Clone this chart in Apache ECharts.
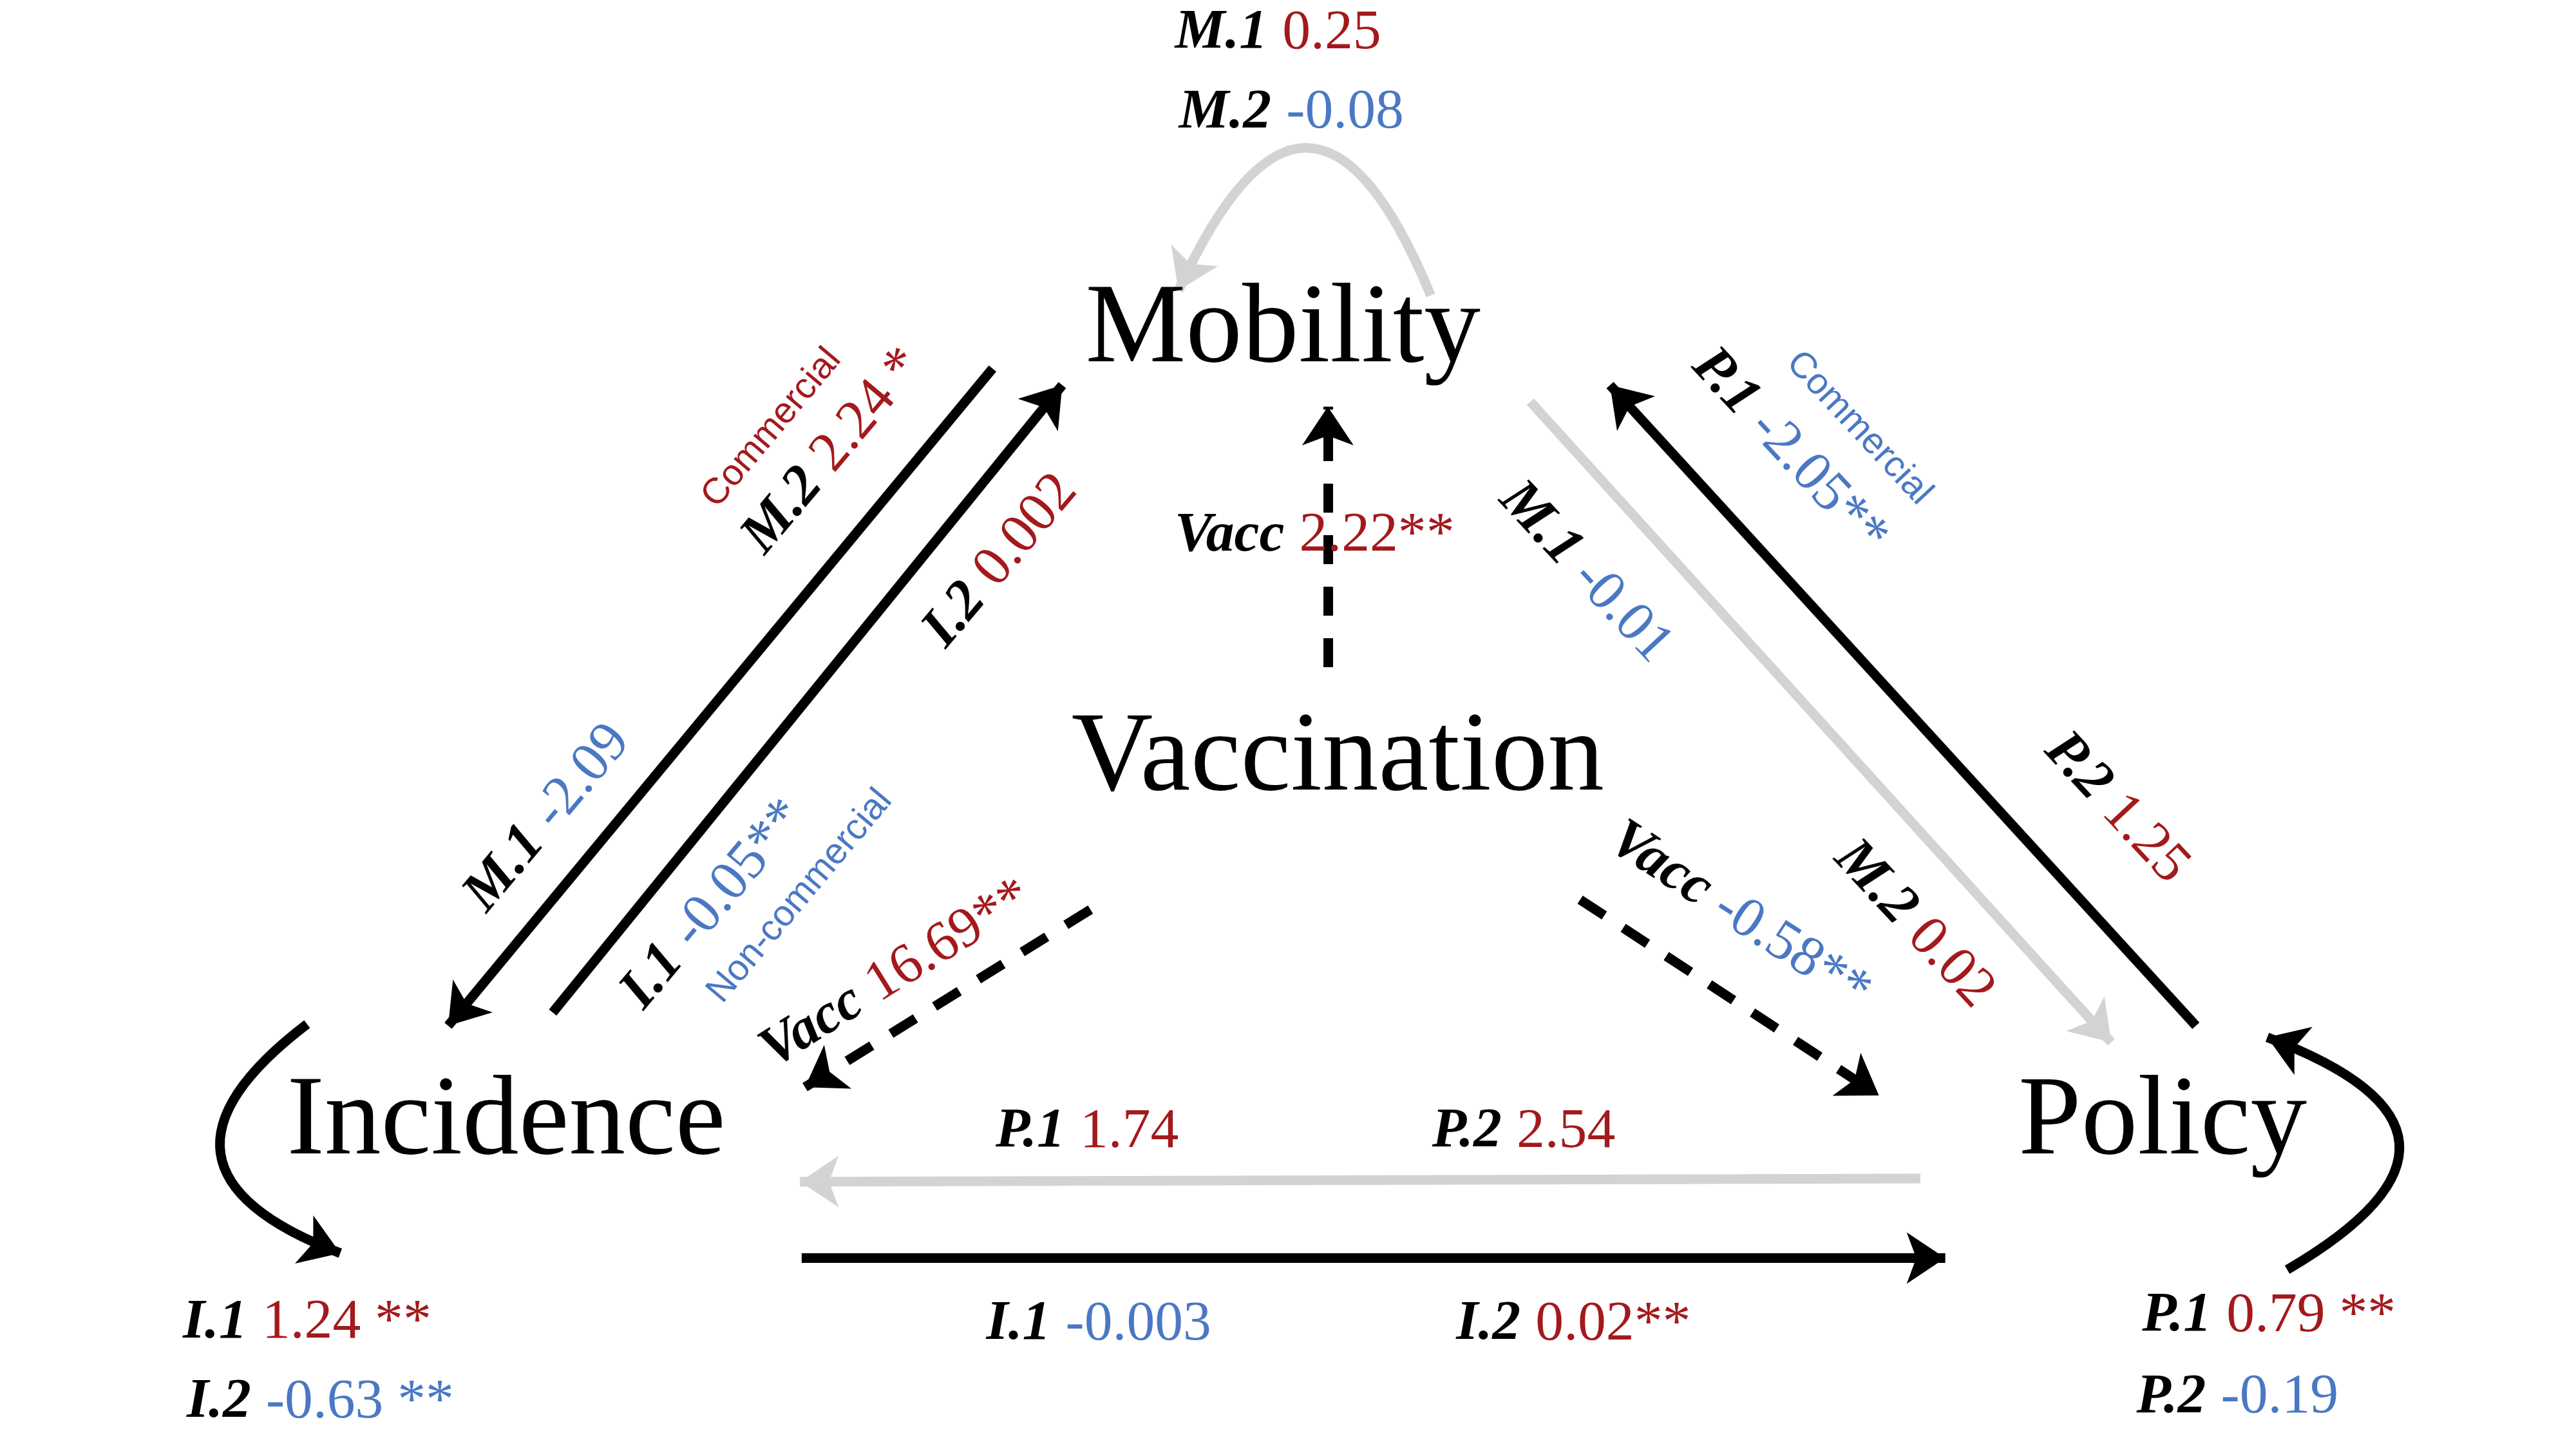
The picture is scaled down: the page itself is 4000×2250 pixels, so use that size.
<!DOCTYPE html>
<html><head><meta charset="utf-8">
<script src="https://cdn.jsdelivr.net/npm/echarts@6/dist/echarts.min.js"></script>
<style>html,body{margin:0;background:#fff}#c{width:4000px;height:2250px}</style>
</head><body><div id="c"></div>
<script>
var W = 1552, H = 873, S = 4000 / W;
var RED = '#a3191c', BLUE = '#4a78c4', GREY = '#d3d3d3';
var FONT = '"Liberation Serif", "DejaVu Serif", serif';

// node names and their centres (reference pixel space)
var nodeNames = ['Mobility', 'Vaccination', 'Incidence', 'Policy'];
var nodePos = [[773, 200], [806, 458], [305, 677], [1303, 677]];

// arrows: [from, to, colour, dashed]
var arrows = [
  [[598, 222], [270, 618], 'black', false],
  [[333, 610], [640, 232], 'black', false],
  [[800, 402], [800, 245], 'black', true],
  [[922, 242], [1272, 628], GREY, false],
  [[1323, 618], [970, 232], 'black', false],
  [[657, 548], [485, 655], 'black', true],
  [[952, 542], [1132, 660], 'black', true],
  [[1157, 710], [482, 712], GREY, false],
  [[483, 758], [1172, 758], 'black', false]
];
// self loops: [from, to, colour, curveness]
var loops = [
  [[862, 178], [710, 175], GREY, -1.15],
  [[185, 617], [205, 755], 'black', -0.9],
  [[1378, 765], [1366, 625], 'black', -1.05]
];

// coefficient labels: [x, y, rotateDeg, term, value, stars, colour]
var coefs = [
  [770, 20, 0, 'M.1', '0.25', '', RED],
  [778, 68, 0, 'M.2', '-0.08', '', BLUE],
  [502, 272, 50, 'M.2', '2.24', ' *', RED],
  [603, 338, 50, 'I.2', '0.002', '', RED],
  [330, 493, 50, 'M.1', '-2.09', '', BLUE],
  [430, 545, 50, 'I.1', '-0.05', '**', BLUE],
  [540, 587, 32, 'Vacc', '16.69', '**', RED],
  [792, 323, 0, 'Vacc', '2.22', '**', RED],
  [1078, 272, -47, 'P.1', '-2.05', '**', BLUE],
  [955, 345, -47, 'M.1', '-0.01', '', BLUE],
  [1275, 487, -47, 'P.2', '1.25', '', RED],
  [1153, 557, -47, 'M.2', '0.02', '', RED],
  [1048, 552, -33, 'Vacc', '-0.58', '**', BLUE],
  [655, 682, 0, 'P.1', '1.74', '', RED],
  [918, 682, 0, 'P.2', '2.54', '', RED],
  [662, 798, 0, 'I.1', '-0.003', '', BLUE],
  [948, 798, 0, 'I.2', '0.02', '**', RED],
  [185, 797, 0, 'I.1', '1.24', ' **', RED],
  [193, 845, 0, 'I.2', '-0.63', ' **', BLUE],
  [1367, 793, 0, 'P.1', '0.79', ' **', RED],
  [1348, 842, 0, 'P.2', '-0.19', '', BLUE]
];
// small notes: [x, y, rotateDeg, text, colour]
var notes = [
  [465, 258, 50, 'Commercial', RED],
  [482, 540, 50, 'Non-commercial', BLUE],
  [1120, 258, -47, 'Commercial', BLUE]
];

var chart = echarts.init(document.getElementById('c'));
var rad = Math.PI / 180;

function textItem(x, y, rot, style) {
  return { type: 'text', x: x, y: y, rotation: rot * rad, style: style };
}

chart.setOption({
  backgroundColor: '#fff',
  animation: false,
  grid: { left: 0, right: 0, top: 0, bottom: 0 },
  xAxis: { type: 'value', min: 0, max: W, show: false },
  yAxis: { type: 'value', min: 0, max: H, inverse: true, show: false },
  series: [
    {
      type: 'lines', coordinateSystem: 'cartesian2d', z: 2,
      symbol: ['none', 'arrow'], symbolSize: [50, 60],
      data: arrows.map(function (a) {
        return { coords: [a[0], a[1]], lineStyle: { color: a[2], opacity: 1, width: 15, type: a[3] ? [45, 35] : 'solid' } };
      })
    },
    {
      type: 'lines', coordinateSystem: 'cartesian2d', z: 2,
      symbol: ['none', 'arrow'], symbolSize: [50, 60],
      data: loops.map(function (a) {
        return { coords: [a[0], a[1]], lineStyle: { color: a[2], opacity: 1, width: 15, curveness: a[3] } };
      })
    },
    {
      type: 'custom', coordinateSystem: 'cartesian2d', z: 5,
      data: nodeNames.map(function (n, i) { return [nodePos[i][0], nodePos[i][1], i]; }),
      renderItem: function (params, api) {
        var p = api.coord([api.value(0), api.value(1)]);
        return textItem(p[0], p[1], 0, {
          text: nodeNames[api.value(2)], fill: '#000', fontFamily: FONT,
          fontSize: 68 * S, align: 'center', verticalAlign: 'middle'
        });
      }
    },
    {
      type: 'custom', coordinateSystem: 'cartesian2d', z: 6,
      data: coefs.map(function (c, i) { return [c[0], c[1], i]; }),
      renderItem: function (params, api) {
        var c = coefs[api.value(2)];
        var p = api.coord([c[0], c[1]]);
        var fs = 34 * S;
        return textItem(p[0], p[1], c[2], {
          text: '{t|' + c[3] + '}{v|' + c[4] + c[5].replace(' ', '\u00a0') + '}',
          align: 'center', verticalAlign: 'middle',
          rich: {
            t: { fontFamily: FONT, fontSize: fs, fontWeight: 'bold', fontStyle: 'italic', fill: '#000', padding: [0, 9 * S, 0, 0] },
            v: { fontFamily: FONT, fontSize: fs, fill: c[6] }
          }
        });
      }
    },
    {
      type: 'custom', coordinateSystem: 'cartesian2d', z: 6,
      data: notes.map(function (c, i) { return [c[0], c[1], i]; }),
      renderItem: function (params, api) {
        var c = notes[api.value(2)];
        var p = api.coord([c[0], c[1]]);
        return textItem(p[0], p[1], c[2], {
          text: c[3], fill: c[4], fontFamily: '"Liberation Sans", Arial, sans-serif',
          fontSize: 22 * S, align: 'center', verticalAlign: 'middle'
        });
      }
    }
  ]
});
</script></body></html>
